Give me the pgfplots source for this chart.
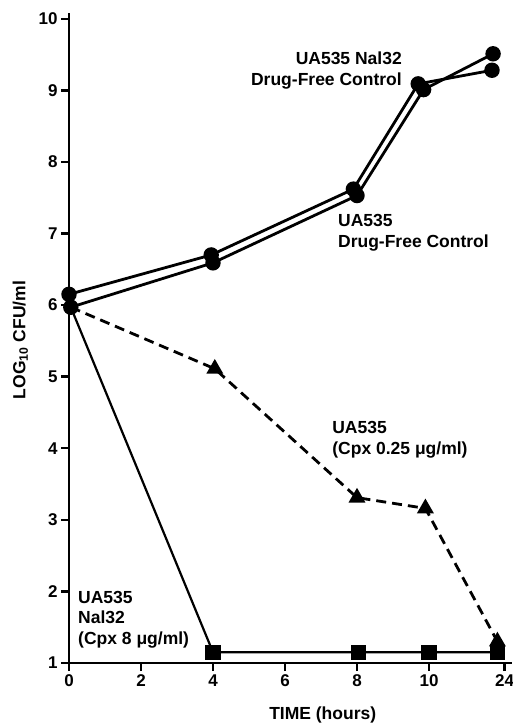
\documentclass[border=0pt]{standalone}
\usepackage{pgfplots}
\pgfplotsset{compat=1.18}
\usepackage{fontspec}
\setmainfont{Liberation Sans}
\begin{document}
\begin{tikzpicture}
\path[use as bounding box] (0,0) rectangle (513pt,723pt);
\begin{axis}[
  at={(69pt,60pt)}, anchor=south west,
  scale only axis, width=442.8pt, height=650pt,
  xmin=0, xmax=12.3, ymin=1, ymax=10.08,
  axis lines=left,
  axis line style={line width=2.6pt, -},
  clip=false,
  xtick={0,2,4,6,8,10,12.1}, xticklabels={0,2,4,6,8,10,24},
  ytick={1,2,3,4,5,6,7,8,9,10},
  tick align=outside, major tick length=8pt,
  tick style={line width=2.4pt, black},
  ticklabel style={font=\fontsize{17}{20}\selectfont\bfseries},
  /pgf/number format/assume math mode=true,
  xlabel={TIME (hours)},
  ylabel={LOG\textsubscript{10} CFU/ml},
  every axis x label/.style={at={(axis description cs:0.573,-0.08)}, anchor=center, font=\fontsize{17.5}{20}\selectfont\bfseries},
  every axis y label/.style={at={(axis description cs:-0.11,0.497)}, anchor=center, rotate=90, font=\fontsize{17.5}{20}\selectfont\bfseries},
]
\addplot[black, line width=2.8pt, mark=*, mark size=6.3pt, mark options={solid}]
  coordinates {(0,6.15)(3.95,6.70)(7.9,7.62)(9.7,9.09)(11.75,9.28)};
\addplot[black, line width=2.8pt, mark=*, mark size=6.3pt, mark options={solid}]
  coordinates {(0.05,5.97)(4.0,6.59)(8.0,7.53)(9.85,9.01)(11.78,9.51)};
\addplot[black, line width=2.8pt, dash pattern=on 10pt off 6pt, mark=triangle*, mark size=7pt, mark options={solid}, mark indices={2,3,4,5}]
  coordinates {(0.05,5.97)(4.05,5.11)(8.0,3.31)(9.9,3.16)(11.9,1.30)};
\addplot[black, line width=2.2pt, mark=square*, mark size=6.5pt, mark options={solid}, mark indices={2,3,4,5}]
  coordinates {(0.05,5.97)(4.0,1.15)(8.05,1.15)(10.0,1.15)(11.9,1.15)};

\begin{scope}[every node/.style={inner sep=0pt, font=\fontsize{17.5}{20.5}\selectfont\bfseries}]
\node[anchor=east, align=right] at (axis cs:9.25,9.28) {UA535 Nal32\\Drug-Free Control};
\node[anchor=west, align=left] at (axis cs:7.47,7.01) {UA535\\Drug-Free Control};
\node[anchor=west, align=left] at (axis cs:7.31,4.12) {UA535\\(Cpx 0.25 μg/ml)};
\node[anchor=west, align=left] at (axis cs:0.25,1.61) {UA535\\Nal32\\(Cpx 8 μg/ml)};
\end{scope}
\end{axis}
\end{tikzpicture}
\end{document}
